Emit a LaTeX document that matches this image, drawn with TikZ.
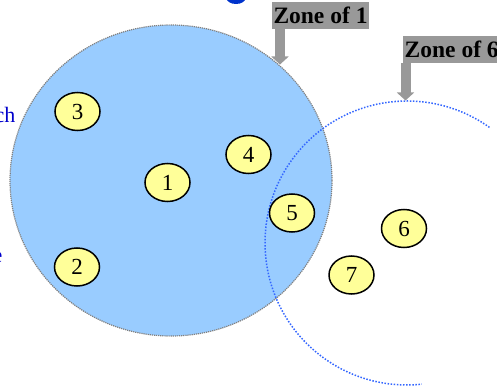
\documentclass[tikz,border=0pt]{standalone}
\usepackage{fontspec}
\setmainfont{Liberation Serif}
\usetikzlibrary{shapes.geometric,arrows.meta}

\definecolor{zonefill}{RGB}{153,204,255}
\definecolor{zoneedge}{RGB}{128,128,128}
\definecolor{reachline}{RGB}{51,102,255}
\definecolor{peerfill}{RGB}{255,255,153}
\definecolor{tagfill}{RGB}{153,153,153}
\definecolor{notetext}{RGB}{0,0,204}
\definecolor{headblue}{RGB}{0,51,204}

\tikzset{
  peer/.style={ellipse, draw=black, line width=1.5pt, fill=peerfill,
    minimum width=45pt, minimum height=38pt, inner sep=0pt,
    font=\fontsize{23}{23}\selectfont},
  zonetag/.style={fill=tagfill, inner sep=0pt, minimum height=27pt,
    text=black, font=\bfseries\fontsize{23.5}{23.5}\selectfont},
  tagarrow/.style={draw=tagfill, line width=10pt, line cap=butt,
    -{Triangle[width=17pt,length=8pt]}},
  note/.style={text=notetext, inner sep=0pt, font=\fontsize{22}{22}\selectfont},
}

\begin{document}
\begin{tikzpicture}[x=1pt,y=-1pt]
  \useasboundingbox (0,0) rectangle (497,390);
  \clip (0,0) rectangle (497,390);

  % piece of the heading glyph at the top edge
  \fill[headblue] (236,-2) ellipse [x radius=9.5, y radius=6];

  % zone reached by peer 1
  \draw[fill=zonefill, draw=zoneedge, line width=1.2pt,
        dash pattern=on 1.2pt off 0.9pt]
    (171,180.5) ellipse [x radius=161, y radius=155.5];

  % zone reached by peer 6 (partial dotted circle)
  \draw[reachline, line width=1.5pt, dash pattern=on 1.5pt off 1.6pt]
    (407,243) ++(-54.5:142) arc [start angle=-54.5, end angle=-276, radius=142];

  % peers
  \node[peer] (p1) at (167.5,182.5) {1};
  \node[peer] (p2) at (77,267) {2};
  \node[peer] (p3) at (77.5,111.5) {3};
  \node[peer] (p4) at (248.5,154.5) {4};
  \node[peer] (p5) at (292,213) {5};
  \node[peer] (p6) at (404,228.5) {6};
  \node[peer] (p7) at (351.5,275) {7};

  % zone tags with arrows
  \node[zonetag, minimum width=97pt] (z1) at (320.5,15.5) {Zone of 1};
  \coordinate (z1tip) at (280,64.5);
  \draw[tagarrow] (z1.south -| z1tip) -- (z1tip);

  \node[zonetag, minimum width=97pt, anchor=west] (z6) at (403,49.5) {Zone of 6};
  \coordinate (z6tip) at (405.5,100.5);
  \draw[tagarrow] (z6.south -| z6tip) -- (z6tip);

  % text cut at the left edge
  \node[note, anchor=base east] (n1) at (15.5,123) {ch};
  \node[note, anchor=base east] (n2) at (2.6,262) {e};
\end{tikzpicture}
\end{document}
